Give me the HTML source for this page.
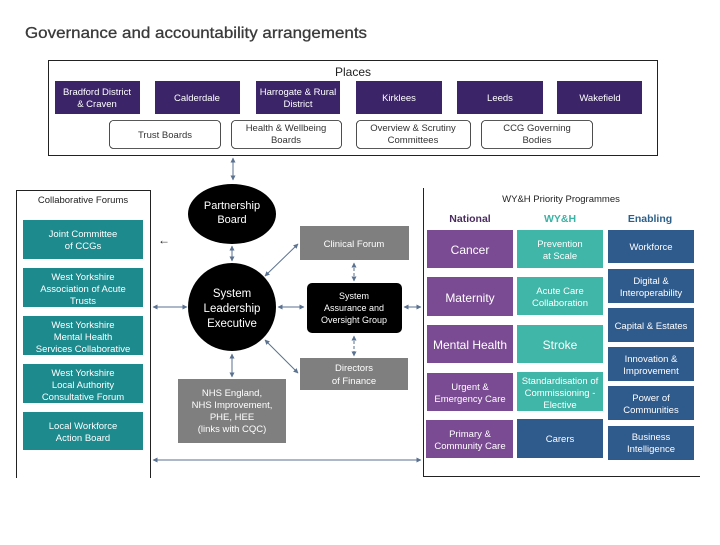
<!DOCTYPE html>
<html><head><meta charset="utf-8"><style>
body{margin:0;background:#fff;}
svg text{font-family:"Liberation Sans",sans-serif;}
</style></head><body>
<svg width="720" height="540" viewBox="0 0 720 540" xmlns="http://www.w3.org/2000/svg">
<defs>
<marker id="a" viewBox="0 0 10 10" refX="9" refY="5" markerWidth="5" markerHeight="5" orient="auto-start-reverse"><path d="M0,0 L10,5 L0,10 z" fill="#5a7290"/></marker>
</defs>
<text x="25" y="38" font-size="16" fill="#3a3a3a" stroke="#3a3a3a" stroke-width="0.3" textLength="342" lengthAdjust="spacingAndGlyphs">Governance and accountability arrangements</text>
<!-- Places -->
<rect x="48.5" y="60.5" width="609" height="95" fill="none" stroke="#222" stroke-width="1"/>
<text x="353" y="76" font-size="12" text-anchor="middle" fill="#222">Places</text>
<g fill="#3b2568">
<rect x="55" y="81" width="85" height="33"/><rect x="155" y="81" width="85" height="33"/><rect x="256" y="81" width="84" height="33"/>
<rect x="356" y="81" width="86" height="33"/><rect x="457" y="81" width="86" height="33"/><rect x="557" y="81" width="85" height="33"/>
</g>
<g font-size="9.5" fill="#fff" text-anchor="middle">
<text x="97" y="95">Bradford District</text><text x="97" y="107">&amp; Craven</text>
<text x="197" y="101">Calderdale</text>
<text x="298" y="95">Harrogate &amp; Rural</text><text x="298" y="107">District</text>
<text x="399" y="101">Kirklees</text><text x="500" y="101">Leeds</text><text x="600" y="101">Wakefield</text>
</g>
<g fill="#fff" stroke="#222" stroke-width="0.8">
<rect x="109.5" y="120.5" width="111" height="28" rx="4"/><rect x="231.5" y="120.5" width="110" height="28" rx="4"/>
<rect x="356.5" y="120.5" width="114" height="28" rx="4"/><rect x="481.5" y="120.5" width="111" height="28" rx="4"/>
</g>
<g font-size="9.5" fill="#333" text-anchor="middle">
<text x="165" y="138">Trust Boards</text>
<text x="286" y="131">Health &amp; Wellbeing</text><text x="286" y="143">Boards</text>
<text x="413" y="131">Overview &amp; Scrutiny</text><text x="413" y="143">Committees</text>
<text x="537" y="131">CCG Governing</text><text x="537" y="143">Bodies</text>
</g>
<!-- left panel -->
<path d="M16.5,478 V190.5 H150.5 V478" fill="none" stroke="#222" stroke-width="1"/>
<text x="83" y="203" font-size="9.5" text-anchor="middle" fill="#222">Collaborative Forums</text>
<g fill="#1d8a8e">
<rect x="23" y="220" width="120" height="39"/><rect x="23" y="268" width="120" height="39"/><rect x="23" y="316" width="120" height="39"/>
<rect x="23" y="364" width="120" height="39"/><rect x="23" y="412" width="120" height="38"/>
</g>
<g font-size="9.5" fill="#fff" text-anchor="middle">
<text x="83" y="237">Joint Committee</text><text x="83" y="249">of CCGs</text>
<text x="83" y="280">West Yorkshire</text><text x="83" y="292">Association of Acute</text><text x="83" y="304">Trusts</text>
<text x="83" y="328">West Yorkshire</text><text x="83" y="340">Mental Health</text><text x="83" y="352">Services Collaborative</text>
<text x="83" y="376">West Yorkshire</text><text x="83" y="388">Local Authority</text><text x="83" y="400">Consultative Forum</text>
<text x="83" y="429">Local Workforce</text><text x="83" y="441">Action Board</text>
</g>
<text x="158" y="244" font-size="12" fill="#222">←</text>
<!-- centre -->
<ellipse cx="232" cy="214" rx="44" ry="30" fill="#000"/>
<text x="232" y="209" font-size="11" fill="#fff" text-anchor="middle">Partnership</text>
<text x="232" y="223" font-size="11" fill="#fff" text-anchor="middle">Board</text>
<circle cx="232" cy="307" r="44" fill="#000"/>
<g font-size="11.5" fill="#fff" text-anchor="middle"><text x="232" y="297">System</text><text x="232" y="312">Leadership</text><text x="232" y="327">Executive</text></g>
<rect x="300" y="226" width="109" height="34" fill="#7f7f7f"/>
<text x="354" y="247" font-size="9.5" fill="#fff" text-anchor="middle">Clinical Forum</text>
<rect x="307" y="283" width="95" height="50" rx="5" fill="#000"/>
<g font-size="9" fill="#fff" text-anchor="middle"><text x="354" y="299">System</text><text x="354" y="311">Assurance and</text><text x="354" y="323">Oversight Group</text></g>
<rect x="300" y="358" width="108" height="32" fill="#7f7f7f"/>
<g font-size="9.5" fill="#fff" text-anchor="middle"><text x="354" y="371">Directors</text><text x="354" y="384">of Finance</text></g>
<rect x="178" y="379" width="108" height="64" fill="#7f7f7f"/>
<g font-size="9.5" fill="#fff" text-anchor="middle"><text x="232" y="396">NHS England,</text><text x="232" y="408">NHS Improvement,</text><text x="232" y="420">PHE, HEE</text><text x="232" y="432">(links with CQC)</text></g>
<!-- arrows -->
<g stroke="#5a7290" stroke-width="1" fill="none" marker-start="url(#a)" marker-end="url(#a)">
<line x1="233" y1="158" x2="233" y2="180"/>
<line x1="232" y1="246" x2="232" y2="261"/>
<line x1="153" y1="307" x2="187" y2="307"/>
<line x1="278" y1="307" x2="304" y2="307"/>
<line x1="404" y1="307" x2="421" y2="307"/>
<line x1="265" y1="276" x2="298" y2="244"/>
<line x1="265" y1="340" x2="298" y2="373"/>
<line x1="232" y1="354" x2="232" y2="377"/>
<line x1="153" y1="460" x2="421" y2="460"/>
<line x1="354" y1="263" x2="354" y2="281" stroke-dasharray="3,2"/>
<line x1="354" y1="336" x2="354" y2="356" stroke-dasharray="3,2"/>
</g>
<!-- right panel -->
<path d="M423.5,188 V476.5 H700" fill="none" stroke="#222" stroke-width="1"/>
<text x="561" y="202" font-size="9.5" text-anchor="middle" fill="#222">WY&amp;H Priority Programmes</text>
<g font-size="10.5" font-weight="bold" text-anchor="middle">
<text x="470" y="222" fill="#4a2d5e">National</text>
<text x="560" y="222" fill="#3bb3a5">WY&amp;H</text>
<text x="650" y="222" fill="#2c5f8a">Enabling</text>
</g>
<g fill="#7a4a92">
<rect x="427" y="230" width="86" height="38"/><rect x="427" y="277" width="86" height="39"/><rect x="427" y="325" width="86" height="38"/><rect x="427" y="373" width="86" height="38"/><rect x="426" y="420" width="87" height="38"/>
</g>
<g fill="#3fb6a7">
<rect x="517" y="230" width="86" height="38"/><rect x="517" y="277" width="86" height="38"/><rect x="517" y="325" width="86" height="38"/><rect x="517" y="372" width="86" height="39"/>
</g>
<g fill="#2f5a8c">
<rect x="517" y="419" width="86" height="39"/>
<rect x="608" y="230" width="86" height="33"/><rect x="608" y="269" width="86" height="34"/><rect x="608" y="308" width="86" height="34"/><rect x="608" y="347" width="86" height="34"/><rect x="608" y="386" width="86" height="34"/><rect x="608" y="426" width="86" height="34"/>
</g>
<g fill="#fff" text-anchor="middle">
<text x="470" y="254" font-size="12">Cancer</text>
<text x="470" y="302" font-size="12">Maternity</text>
<text x="470" y="349" font-size="12">Mental Health</text>
<text x="470" y="390" font-size="9.5">Urgent &amp;</text><text x="470" y="402" font-size="9.5">Emergency Care</text>
<text x="470" y="437" font-size="9.5">Primary &amp;</text><text x="470" y="449" font-size="9.5">Community Care</text>
<text x="560" y="247" font-size="9.5">Prevention</text><text x="560" y="259" font-size="9.5">at Scale</text>
<text x="560" y="294" font-size="9.5">Acute Care</text><text x="560" y="306" font-size="9.5">Collaboration</text>
<text x="560" y="349" font-size="12">Stroke</text>
<text x="560" y="384" font-size="9.5">Standardisation of</text><text x="560" y="396" font-size="9.5">Commissioning -</text><text x="560" y="408" font-size="9.5">Elective</text>
<text x="560" y="442" font-size="9.5">Carers</text>
<text x="651" y="250" font-size="9.5">Workforce</text>
<text x="651" y="284" font-size="9.5">Digital &amp;</text><text x="651" y="296" font-size="9.5">Interoperability</text>
<text x="651" y="329" font-size="9.5">Capital &amp; Estates</text>
<text x="651" y="362" font-size="9.5">Innovation &amp;</text><text x="651" y="374" font-size="9.5">Improvement</text>
<text x="651" y="401" font-size="9.5">Power of</text><text x="651" y="413" font-size="9.5">Communities</text>
<text x="651" y="440" font-size="9.5">Business</text><text x="651" y="452" font-size="9.5">Intelligence</text>
</g>
</svg>
</body></html>
